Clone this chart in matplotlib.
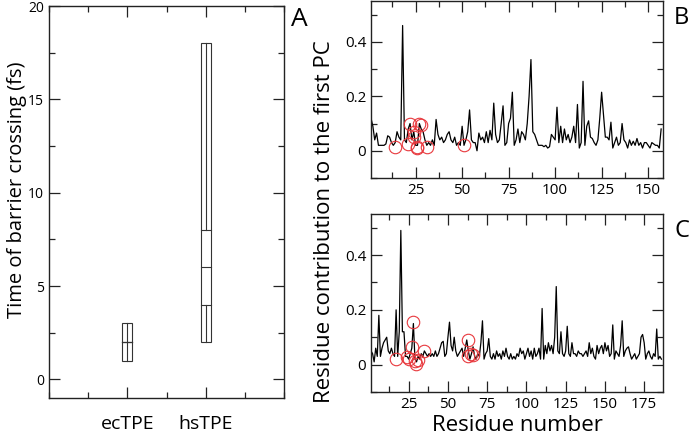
import matplotlib.pyplot as plt
from matplotlib.patches import Rectangle
from matplotlib.ticker import MultipleLocator

plt.rcParams['font.family'] = ['Open Sans', 'DejaVu Sans']

# panel A: barrier crossing times
cats = ['ecTPE', 'hsTPE']
low = [1, 2]
q1 = [2, 4]
med = [2, 6]
q3 = [2, 8]
high = [3, 18]

# panel B: residue contributions (residues 1..157)
res_b = list(range(1, 158))
pc_b = [0.12, 0.09, 0.04, 0.065, 0.02, 0.02, 0.02, 0.02, 0.025, 0.055,
        0.05, 0.03, 0.02, 0.03, 0.07, 0.05, 0.04, 0.46, 0.04, 0.03,
        0.08, 0.1, 0.04, 0.07, 0.02, 0.02, 0.1, 0.08, 0.07, 0.04,
        0.02, 0.03, 0.02, 0.04, 0.02, 0.115, 0.06, 0.04, 0.05, 0.03,
        0.04, 0.06, 0.07, 0.04, 0.03, 0.05, 0.02, 0.03, 0.02, 0.09,
        0.02, 0.04, 0.07, 0.15, 0.04, 0.03, 0.03, 0.0, 0.065, 0.04,
        0.05, 0.03, 0.07, 0.03, 0.075, 0.04, 0.175, 0.06, 0.03, 0.04,
        0.1, 0.165, 0.02, 0.03, 0.1, 0.12, 0.215, 0.02, 0.04, 0.08,
        0.03, 0.07, 0.06, 0.04, 0.1, 0.2, 0.335, 0.07, 0.06, 0.04,
        0.02, 0.02, 0.02, 0.015, 0.02, 0.01, 0.015, 0.06, 0.05, 0.04,
        0.16, 0.03, 0.09, 0.03, 0.08, 0.04, 0.06, 0.03, 0.05, 0.09,
        0.03, 0.17, 0.01, 0.03, 0.255, 0.02, 0.09, 0.11, 0.05, 0.045,
        0.03, 0.02, 0.04, 0.12, 0.215, 0.13, 0.05, 0.05, 0.04, 0.105,
        0.01, 0.03, 0.05, 0.02, 0.03, 0.1, 0.04, 0.03, 0.01, 0.04,
        0.02, 0.035, 0.02, 0.045, 0.02, 0.03, 0.01, 0.03, 0.03, 0.02,
        0.01, 0.03, 0.025, 0.02, 0.02, 0.01, 0.08]
circ_b_x = [14, 21, 22, 24, 24, 26, 26, 27, 28, 31, 51]
circ_b_y = [0.015, 0.025, 0.1, 0.05, 0.07, 0.015, 0.01, 0.1, 0.095, 0.015, 0.02]

# panel C: residue contributions (residues 1..186)
res_c = list(range(1, 187))
pc_c = [0.05, 0.04, 0.01, 0.06, 0.03, 0.18, 0.03, 0.06, 0.08, 0.09,
        0.1, 0.05, 0.04, 0.06, 0.04, 0.03, 0.2, 0.03, 0.12, 0.49,
        0.12, 0.12, 0.03, 0.03, 0.02, 0.04, 0.06, 0.15, 0.02, 0.01,
        0.03, 0.02, 0.04, 0.03, 0.05, 0.04, 0.03, 0.04, 0.03, 0.04,
        0.03, 0.05, 0.03, 0.04, 0.06, 0.08, 0.085, 0.03, 0.04, 0.1,
        0.155, 0.07, 0.05, 0.1, 0.05, 0.03, 0.04, 0.05, 0.06, 0.03,
        0.06, 0.09, 0.05, 0.02, 0.04, 0.065, 0.03, 0.02, 0.04, 0.03,
        0.08, 0.16, 0.02, 0.04, 0.05, 0.095, 0.03, 0.02, 0.04, 0.02,
        0.05, 0.03, 0.04, 0.02, 0.05, 0.03, 0.06, 0.03, 0.02, 0.04,
        0.02, 0.03, 0.02, 0.04, 0.03, 0.06, 0.04, 0.05, 0.02, 0.04,
        0.06, 0.03, 0.05, 0.02, 0.06, 0.03, 0.04, 0.06, 0.02, 0.205,
        0.02, 0.07, 0.04, 0.08, 0.05, 0.07, 0.04, 0.1, 0.285, 0.05,
        0.04, 0.12, 0.04, 0.03, 0.05, 0.14, 0.04, 0.03, 0.08, 0.04,
        0.04, 0.03, 0.05, 0.04, 0.04, 0.03, 0.04, 0.05, 0.03, 0.08,
        0.04, 0.06, 0.03, 0.02, 0.07, 0.04, 0.06, 0.07, 0.04, 0.08,
        0.05, 0.07, 0.03, 0.04, 0.145, 0.02, 0.05, 0.04, 0.03, 0.07,
        0.16, 0.03, 0.05, 0.06, 0.065, 0.04, 0.02, 0.03, 0.04, 0.02,
        0.03, 0.04, 0.1, 0.11, 0.08, 0.02, 0.04, 0.05, 0.03, 0.02,
        0.04, 0.03, 0.13, 0.02, 0.03, 0.02]
circ_c_x = [17, 24, 25, 27, 28, 29, 29.5, 31, 35, 62.6, 63, 64.7, 66]
circ_c_y = [0.022, 0.027, 0.022, 0.065, 0.155, 0.012, 0.004, 0.018, 0.05,
            0.09, 0.03, 0.04, 0.036]

W, H = 689, 440
fig = plt.figure(figsize=(W / 100, H / 100), dpi=100)


def frac(l, r, t, b):
    return [l / W, 1 - b / H, (r - l) / W, (b - t) / H]


def style(ax):
    ax.tick_params(which='both', direction='in', top=True, right=True,
                   labelsize=10, width=0.9, color='#222222')
    ax.tick_params(which='major', length=8)
    ax.tick_params(which='minor', length=4)
    for s in ax.spines.values():
        s.set_linewidth(1.0)
        s.set_color('#222222')


# ---- panel A
axA = fig.add_axes(frac(49, 284, 6, 398))
hw = 0.065
for i in range(len(cats)):
    x = i + 1
    axA.add_patch(Rectangle((x - hw, low[i]), 2 * hw, high[i] - low[i],
                            fill=False, lw=0.8, ec='#333333'))
    for v in (q1[i], med[i], q3[i]):
        axA.plot([x - hw, x + hw], [v, v], color='#333333', lw=0.8)
    axA.plot([x, x], [low[i], q1[i]], color='#333333', lw=0.8)
    axA.plot([x, x], [q3[i], high[i]], color='#333333', lw=0.8)
axA.set_xlim(0, 3)
axA.set_ylim(-1, 20)
axA.set_xticks([1, 2])
axA.set_xticklabels(cats)
axA.xaxis.set_minor_locator(MultipleLocator(0.5))
axA.yaxis.set_major_locator(MultipleLocator(5))
axA.yaxis.set_minor_locator(MultipleLocator(2.5))
style(axA)
axA.tick_params(axis='x', which='major', labelsize=14, pad=12)
fig.text(17 / W, 1 - 190 / H, 'Time of barrier crossing (fs)',
         rotation=90, ha='center', va='center', fontsize=14.5)

# ---- panel B
axB = fig.add_axes(frac(371, 663, 1, 178))
axB.plot(res_b, pc_b, color='black', lw=0.9)
axB.plot(circ_b_x, circ_b_y, 'o', ms=9, mfc='none', mec='#e8383d', mew=0.8)
axB.set_xlim(1, 158)
axB.set_ylim(-0.1, 0.55)
axB.xaxis.set_major_locator(MultipleLocator(25))
axB.xaxis.set_minor_locator(MultipleLocator(12.5))
axB.yaxis.set_minor_locator(MultipleLocator(0.1))
axB.set_yticks([0, 0.2, 0.4])
axB.set_yticklabels(['0', '0.2', '0.4'])
style(axB)
axB.tick_params(labelsize=11)

# ---- panel C
axC = fig.add_axes(frac(371, 663, 214, 392))
axC.plot(res_c, pc_c, color='black', lw=0.9)
axC.plot(circ_c_x, circ_c_y, 'o', ms=9, mfc='none', mec='#e8383d', mew=0.8)
axC.set_xlim(1, 187)
axC.set_ylim(-0.1, 0.55)
axC.xaxis.set_major_locator(MultipleLocator(25))
axC.xaxis.set_minor_locator(MultipleLocator(12.5))
axC.yaxis.set_minor_locator(MultipleLocator(0.1))
axC.set_yticks([0, 0.2, 0.4])
axC.set_yticklabels(['0', '0.2', '0.4'])
style(axC)
axC.tick_params(labelsize=11)
fig.text(517 / W, 1 - 425 / H, 'Residue number',
         ha='center', va='center', fontsize=16)

fig.text(325 / W, 1 - 222 / H, 'Residue contribution to the first PC',
         rotation=90, ha='center', va='center', fontsize=16)

fig.text(299 / W, 1 - 20 / H, 'A', ha='center', va='center', fontsize=19)
fig.text(674 / W, 1 - 18 / H, 'B', ha='left', va='center', fontsize=17)
fig.text(674 / W, 1 - 231 / H, 'C', ha='left', va='center', fontsize=17)

fig.savefig('out.png', dpi=100)
